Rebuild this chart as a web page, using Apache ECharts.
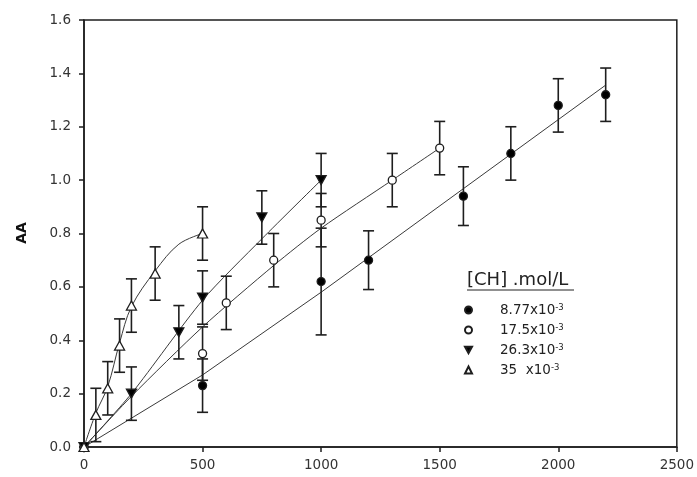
<!DOCTYPE html>
<html>
<head>
<meta charset="utf-8">
<script src="https://cdn.jsdelivr.net/npm/echarts@6/dist/echarts.min.js"></script>
<style>
  html, body { margin: 0; padding: 0; background: #fff; }
  #chart { width: 697px; height: 477px; }
</style>
</head>
<body>
<div id="chart"></div>
<script>
// Axis ticks
const xTicks = [0, 500, 1000, 1500, 2000, 2500];
const yTicks = [0.0, 0.2, 0.4, 0.6, 0.8, 1.0, 1.2, 1.4, 1.6];

// [CH] = 8.77x10^-3 mol/L
const x877 = [0, 500, 1000, 1200, 1600, 1800, 2000, 2200];
const y877 = [0, 0.23, 0.62, 0.70, 0.94, 1.10, 1.28, 1.32];
const e877 = [0, 0.10, 0.20, 0.11, 0.11, 0.10, 0.10, 0.10];
const fitX877 = [0, 500, 1000, 2200];
const fitY877 = [0, 0.27, 0.58, 1.356];

// [CH] = 17.5x10^-3 mol/L
const x175 = [0, 500, 600, 800, 1000, 1300, 1500];
const y175 = [0, 0.35, 0.54, 0.70, 0.85, 1.00, 1.12];
const e175 = [0, 0.10, 0.10, 0.10, 0.10, 0.10, 0.10];
const fitX175 = [0, 200, 500, 800, 1000, 1300, 1500];
const fitY175 = [0, 0.19, 0.45, 0.68, 0.82, 1.00, 1.12];

// [CH] = 26.3x10^-3 mol/L
const x263 = [0, 200, 400, 500, 750, 1000];
const y263 = [0, 0.20, 0.43, 0.56, 0.86, 1.00];
const e263 = [0, 0.10, 0.10, 0.10, 0.10, 0.10];
const fitX263 = [0, 200, 500, 750, 1000];
const fitY263 = [0, 0.20, 0.55, 0.78, 1.00];

// [CH] = 35x10^-3 mol/L
const x35 = [0, 50, 100, 150, 200, 300, 500];
const y35 = [0, 0.12, 0.22, 0.38, 0.53, 0.65, 0.80];
const e35 = [0, 0.10, 0.10, 0.10, 0.10, 0.10, 0.10];
const fitX35 = [0, 50, 100, 150, 200, 300, 400, 500];
const fitY35 = [0, 0.127, 0.226, 0.39, 0.526, 0.66, 0.76, 0.80];

const legendNames = ['8.77x10', '17.5x10', '26.3x10', '35  x10'];

const FONT = 'DejaVu Sans';
const INK = '#1e1e1e';
const DOWN_TRI = 'path://M0,0 L10,0 L5,9 Z';

const pairs = (xs, ys) => xs.map((x, i) => [x, ys[i]]);
const bars = (xs, ys, es) => xs.map((x, i) => [x, ys[i] - es[i], ys[i] + es[i]]).filter(d => d[2] > d[1]);

function errorBarSeries(data) {
  return {
    type: 'custom',
    data: data,
    z: 3,
    silent: true,
    renderItem: function (params, api) {
      const lo = api.coord([api.value(0), api.value(1)]);
      const hi = api.coord([api.value(0), api.value(2)]);
      const w = 5.5;
      const style = { stroke: INK, lineWidth: 1.6, fill: null };
      return {
        type: 'group',
        children: [
          { type: 'line', shape: { x1: lo[0], y1: lo[1], x2: hi[0], y2: hi[1] }, style: style },
          { type: 'line', shape: { x1: lo[0] - w, y1: lo[1], x2: lo[0] + w, y2: lo[1] }, style: style },
          { type: 'line', shape: { x1: hi[0] - w, y1: hi[1], x2: hi[0] + w, y2: hi[1] }, style: style }
        ]
      };
    }
  };
}

function fitSeries(xs, ys, smooth) {
  return {
    type: 'line',
    data: pairs(xs, ys),
    showSymbol: false,
    symbol: 'none',
    smooth: smooth,
    silent: true,
    z: 2,
    lineStyle: { color: '#3a3a3a', width: 1 }
  };
}

function markerSeries(name, xs, ys, symbol, size, fill) {
  return {
    name: name,
    type: 'scatter',
    data: pairs(xs, ys),
    symbol: symbol,
    symbolSize: size,
    z: 5,
    itemStyle: { color: fill, borderColor: INK, borderWidth: 1.3, opacity: 1 }
  };
}

const chart = echarts.init(document.getElementById('chart'), null, { renderer: 'canvas' });

chart.setOption({
  animation: false,
  backgroundColor: '#fff',
  grid: {
    left: 84, right: 19, top: 20, bottom: 30,
    show: true, borderColor: INK, borderWidth: 1.5, backgroundColor: 'transparent'
  },
  xAxis: {
    type: 'value',
    min: xTicks[0], max: xTicks[xTicks.length - 1], interval: 500,
    axisLine: { show: true, onZero: false, lineStyle: { color: INK, width: 1.5 } },
    axisTick: { show: true, inside: false, length: 5, lineStyle: { color: INK, width: 1.5 } },
    splitLine: { show: false },
    axisLabel: { color: '#333', fontFamily: FONT, fontSize: 13.5, margin: 11, formatter: v => String(v) }
  },
  yAxis: {
    type: 'value',
    min: yTicks[0], max: yTicks[yTicks.length - 1], interval: 0.2,
    axisLine: { show: true, onZero: false, lineStyle: { color: INK, width: 1.5 } },
    axisTick: { show: true, inside: false, length: 5, lineStyle: { color: INK, width: 1.5 } },
    splitLine: { show: false },
    axisLabel: {
      color: '#333', fontFamily: FONT, fontSize: 13.5, margin: 13,
      formatter: v => v.toFixed(1)
    }
  },
  legend: {
    orient: 'vertical',
    left: 464,
    top: 303,
    padding: 0,
    itemGap: 6,
    itemWidth: 7,
    itemHeight: 7,
    selectedMode: false,
    data: legendNames,
    formatter: n => '{b|' + n + '}{s|-3}',
    textStyle: {
      color: '#222',
      fontFamily: FONT,
      padding: [0, 0, 0, 23],
      rich: {
        b: { fontFamily: FONT, fontSize: 13.5, color: '#222', lineHeight: 14 },
        s: { fontFamily: FONT, fontSize: 8.5, color: '#222', verticalAlign: 'top', lineHeight: 9 }
      }
    }
  },
  graphic: [
    {
      type: 'group', x: 22, y: 233, rotation: Math.PI / 2,
      children: [{
        type: 'text', x: 0, y: 0,
        style: {
          text: 'AA', fontFamily: FONT, fontSize: 14, fontWeight: 'bold', fill: '#111',
          align: 'center', verticalAlign: 'middle'
        }
      }]
    },
    {
      type: 'text', left: 467, top: 271,
      style: { text: '[CH] .mol/L', fontFamily: FONT, fontSize: 18, fill: '#222' }
    },
    {
      type: 'line', silent: true,
      shape: { x1: 467, y1: 290, x2: 574, y2: 290 },
      style: { stroke: '#222', lineWidth: 1.2 }
    }
  ],
  series: [
    fitSeries(fitX877, fitY877, false),
    fitSeries(fitX175, fitY175, 0.25),
    fitSeries(fitX263, fitY263, 0.25),
    fitSeries(fitX35, fitY35, 0.35),
    errorBarSeries(bars(x877, y877, e877)),
    errorBarSeries(bars(x175, y175, e175)),
    errorBarSeries(bars(x263, y263, e263)),
    errorBarSeries(bars(x35, y35, e35)),
    markerSeries(legendNames[0], x877, y877, 'circle', 8, '#000'),
    markerSeries(legendNames[1], x175, y175, 'circle', 8, '#fff'),
    markerSeries(legendNames[2], x263, y263, DOWN_TRI, [10, 9], '#000'),
    markerSeries(legendNames[3], x35, y35, 'triangle', [10, 9], '#fff')
  ]
});
</script>
</body>
</html>
